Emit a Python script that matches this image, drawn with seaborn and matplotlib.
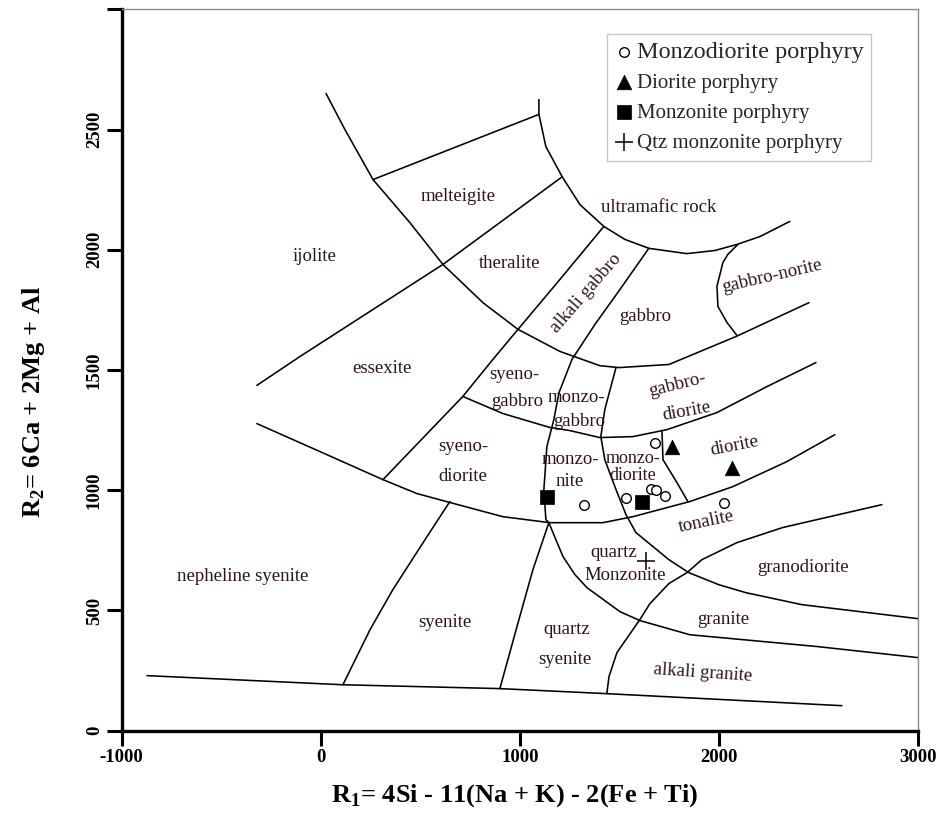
import matplotlib
matplotlib.use("Agg")
import matplotlib.pyplot as plt
import seaborn as sns

# ---------------- boundary lines (R1, R2) ----------------
base_x = [-873, 111, 899, 1436, 2616]
base_y = [229, 191, 175, 154, 104]
neph_syen_x = [111, 247, 362, 533, 648]
neph_syen_y = [191, 420, 587, 807, 953]
mid_curve_x = [-321, -5, 312, 483, 648, 914, 1150, 1416, 1567, 1853, 2069, 2340, 2581]
mid_curve_y = [1277, 1161, 1044, 986, 949, 890, 865, 865, 890, 953, 1015, 1119, 1231]
essex_x = [312, 713, 864, 990, 1201, 1421]
essex_y = [1044, 1390, 1544, 1669, 1877, 2097]
big_arc_x = [26, 121, 262, 447, 613, 814, 990, 1201, 1401, 1497, 1748, 2084, 2451]
big_arc_y = [2650, 2500, 2292, 2113, 1939, 1780, 1669, 1577, 1518, 1510, 1523, 1639, 1780]
melt_top_x = [262, 1095]
melt_top_y = [2292, 2563]
ultra_x = [1095, 1095, 1130, 1211, 1301, 1421, 1527, 1647, 1838, 1979, 2089, 2205, 2355]
ultra_y = [2625, 2563, 2429, 2305, 2188, 2097, 2043, 2006, 1984, 1997, 2022, 2055, 2118]
ijol_x = [-321, -105, 613, 1211]
ijol_y = [1436, 1556, 1939, 2303]
alk_gab_x = [1647, 1502, 1376, 1261, 1196, 1170, 1135, 1120, 1130, 1145]
alk_gab_y = [2006, 1835, 1689, 1544, 1406, 1294, 1181, 1003, 878, 865]
monzo_x = [1482, 1426, 1406, 1426, 1482, 1532, 1582, 1748, 1848, 1999, 2134, 2416, 2998]
monzo_y = [1510, 1336, 1223, 1127, 1003, 899, 824, 711, 657, 607, 574, 524, 466]
gab_dio_x = [713, 914, 1150, 1251, 1401, 1567, 1738, 1989, 2240, 2486]
gab_dio_y = [1390, 1319, 1261, 1248, 1219, 1223, 1252, 1323, 1431, 1531]
dio_x = [1713, 1718, 1788, 1843]
dio_y = [1244, 1127, 1032, 953]
tonal_x = [2817, 2320, 2089, 1913, 1838, 1748, 1652, 1602, 1487, 1447, 1436]
tonal_y = [940, 845, 782, 711, 657, 612, 528, 462, 325, 225, 154]
granite_x = [1145, 1180, 1216, 1276, 1336, 1502, 1602, 1853, 2491, 2998]
granite_y = [865, 795, 724, 649, 595, 495, 458, 399, 350, 304]
qsyen_x = [1145, 1065, 985, 899]
qsyen_y = [865, 670, 433, 175]
norite_x = [2094, 2044, 2019, 1989, 1994, 2039, 2089]
norite_y = [2022, 1981, 1947, 1848, 1764, 1698, 1644]

boundaries = [(base_x, base_y), (neph_syen_x, neph_syen_y), (mid_curve_x, mid_curve_y),
              (essex_x, essex_y), (big_arc_x, big_arc_y), (melt_top_x, melt_top_y),
              (ultra_x, ultra_y), (ijol_x, ijol_y), (alk_gab_x, alk_gab_y),
              (monzo_x, monzo_y), (gab_dio_x, gab_dio_y), (dio_x, dio_y),
              (tonal_x, tonal_y), (granite_x, granite_y), (qsyen_x, qsyen_y),
              (norite_x, norite_y)]

# ---------------- field names ----------------
field_names = ["melteigite", "ijolite", "theralite", "ultramafic rock", "alkali gabbro",
               "gabbro", "gabbro-norite", "essexite", "syeno-", "gabbro", "monzo-", "gabbro",
               "gabbro-", "diorite", "syeno-", "diorite", "monzo-", "nite", "monzo-", "diorite",
               "diorite", "tonalite", "quartz", "Monzonite", "granodiorite", "granite",
               "alkali granite", "quartz", "syenite", "syenite", "nepheline syenite"]
field_x = [688, -30, 947, 1695, 1330, 1631, 2265, 305, 970, 987, 1281, 1296,
           1793, 1837, 715, 715, 1251, 1251, 1565, 1565, 2079, 1939, 1472, 1529,
           2421, 2021, 1920, 1234, 1226, 623, -390]
field_y = [2222, 1974, 1943, 2176, 1821, 1724, 1890, 1506, 1481, 1370, 1385, 1287,
           1440, 1328, 1183, 1058, 1127, 1037, 1131, 1063, 1183, 867, 739, 645,
           680, 462, 240, 420, 295, 448, 642]
field_rot = [0, 0, 0, 0, 49, 0, 13, 0, 0, 0, 0, 0, 14, 10, 0, 0, 0, 0, 0, 0,
             11, 12, 0, 0, 0, 0, -4, 0, 0, 0, 0]
field_size = [13.5] * 18 + [13, 13] + [13.5] * 11

# ---------------- samples ----------------
mzd_r1 = [1677, 1321, 1532, 1657, 1683, 1728, 2026]
mzd_r2 = [1196, 940, 967, 1007, 1003, 974, 947]
dio_r1 = [1763, 2067]
dio_r2 = [1181, 1093]
mzn_r1 = [1137, 1611]
mzn_r2 = [972, 951]
qmz_r1 = [1635]
qmz_r2 = [704]

xticks = [-1000, 0, 1000, 2000, 3000]
yticks = [0, 500, 1000, 1500, 2000, 2500, 3000]
ytick_labels = ["0", "500", "1000", "1500", "2000", "2500", ""]

# ---------------- drawing ----------------
sns.set_theme(style="white")
plt.rcParams["font.family"] = ["Liberation Serif", "DejaVu Serif"]
plt.rcParams["mathtext.fontset"] = "custom"
plt.rcParams["mathtext.rm"] = "Liberation Serif"
plt.rcParams["mathtext.bf"] = "Liberation Serif:bold"

fig = plt.figure(figsize=(9.38, 8.39), dpi=100)
ax = fig.add_axes([0.1297, 0.1291, 0.8493, 0.8598])

for bx, by in boundaries:
    sns.lineplot(x=bx, y=by, sort=False, estimator=None, color="black",
                 linewidth=1.15, ax=ax, legend=False)

txt_color = "#2e1414"
for name, fx, fy, rot, fs in zip(field_names, field_x, field_y, field_rot, field_size):
    ax.text(fx, fy, name, ha="center", va="center", rotation=rot,
            rotation_mode="anchor", fontsize=fs, color=txt_color)

sns.scatterplot(x=mzd_r1, y=mzd_r2, marker="o", s=48, color="white",
                edgecolor="black", linewidth=1.0, label="Monzodiorite porphyry",
                ax=ax, zorder=5)
sns.scatterplot(x=dio_r1, y=dio_r2, marker="^", s=110, color="black",
                edgecolor="black", linewidth=0.5, label="Diorite porphyry", ax=ax, zorder=5)
sns.scatterplot(x=mzn_r1, y=mzn_r2, marker="s", s=95, color="black",
                edgecolor="black", linewidth=0.5, label="Monzonite porphyry", ax=ax, zorder=5)
sns.scatterplot(x=qmz_r1, y=qmz_r2, marker="+", s=170, color="black",
                linewidth=1.1, label="Qtz monzonite porphyry", ax=ax, zorder=5)

ax.set_xlim(-1000, 3000)
ax.set_ylim(0, 3000)
ax.set_xticks(xticks)
ax.set_xticklabels([str(t) for t in xticks])
ax.set_yticks(yticks)
ax.set_yticklabels(ytick_labels)
ax.tick_params(axis="both", which="major", direction="out", length=10.5, width=2.2,
               color="black", labelsize=13.5, pad=3, bottom=True, left=True,
               top=False, right=False, labelcolor="black")
ax.tick_params(axis="y", labelrotation=90)
for t in ax.get_yticklabels():
    t.set_va("center")
    t.set_fontweight("bold")
for t in ax.get_xticklabels():
    t.set_fontweight("bold")

for side in ["left", "bottom"]:
    ax.spines[side].set_linewidth(2.4)
    ax.spines[side].set_color("black")
for side in ["top", "right"]:
    ax.spines[side].set_linewidth(1.0)
    ax.spines[side].set_color("#8c8c8c")
ax.grid(False)

ax.set_xlabel(r"R$_\mathbf{1}$= 4Si - 11(Na + K) - 2(Fe + Ti)", fontsize=19,
              fontweight="bold", color="black")
ax.set_ylabel(r"R$_\mathbf{2}$= 6Ca + 2Mg + Al", fontsize=19,
              fontweight="bold", color="black")
ax.xaxis.set_label_coords(0.494, -0.072)
ax.yaxis.set_label_coords(-0.094, 0.456)

leg = ax.legend(loc="upper left", bbox_to_anchor=(0.609, 0.966), borderaxespad=0,
                frameon=True, fancybox=False, edgecolor="#c8c8c8", framealpha=1,
                prop={"size": 15}, handlelength=0.9, handletextpad=0.15,
                labelspacing=0.5, borderpad=0.38)
leg.get_frame().set_linewidth(1.0)
leg.get_texts()[0].set_fontsize(17.5)

fig.savefig("out.png", dpi=100)
